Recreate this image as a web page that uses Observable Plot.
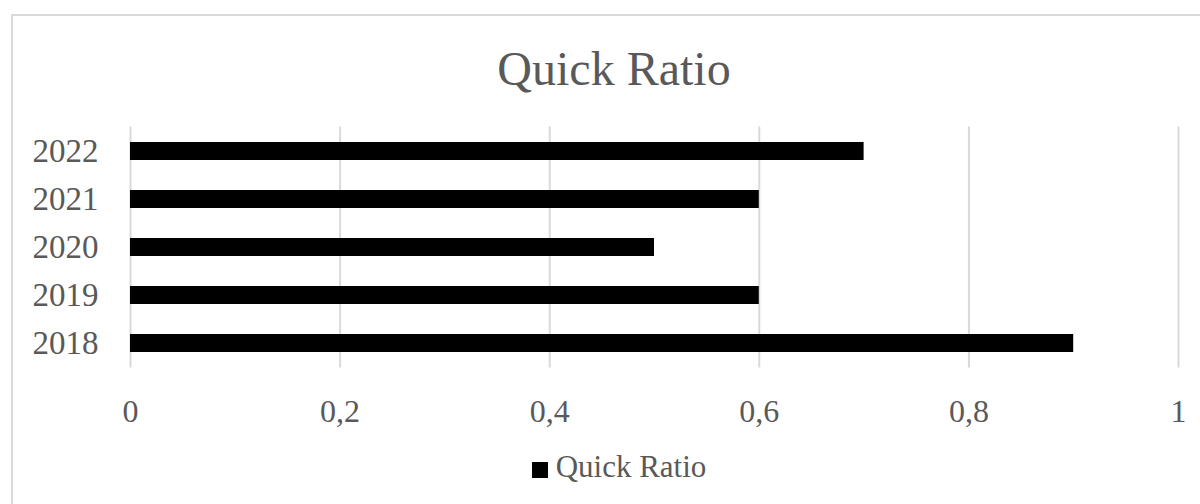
<!DOCTYPE html>
<html>
<head>
<meta charset="utf-8">
<script src="https://cdn.jsdelivr.net/npm/d3@7"></script>
<script src="https://cdn.jsdelivr.net/npm/@observablehq/plot@0.6"></script>
<style>
  body { margin: 0; background: #fff; }
  #wrap { position: relative; width: 1200px; height: 504px; overflow: hidden; background: #fff; }
  #frame { position: absolute; left: 11px; top: 14px; width: 1300px; height: 600px; border: 2px solid #d9d9d9; box-sizing: border-box; pointer-events: none; }
  #title { position: relative; width: 1228px; height: 100px; box-sizing: border-box; padding-top: 45px; font-family: 'Liberation Serif', serif; font-size: 48px; line-height: 48px; text-align: center; color: #595959; }
  #chart { position: relative; height: 330px; }
  #legend { position: relative; width: 1200px; box-sizing: border-box; padding-left: 38px; padding-top: 21px; display: flex; justify-content: center; align-items: flex-start; font-family: 'Liberation Serif', serif; font-size: 31px; line-height: 31px; color: #595959; }
  #legend .sw { width: 16px; height: 16px; background: #000; margin-right: 8px; margin-top: 11px; }
</style>
</head>
<body>
<div id="wrap">
  <div id="frame"></div>
  <div id="title"></div>
  <div id="chart"></div>
  <div id="legend"></div>
</div>
<script>
const chartTitle = "Quick Ratio";
const seriesName = "Quick Ratio";
const years = ["2018", "2019", "2020", "2021", "2022"];
const quickRatio = [0.9, 0.6, 0.5, 0.6, 0.7];
const xTicks = [0, 0.2, 0.4, 0.6, 0.8, 1];
const xTickLabels = ["0", "0,2", "0,4", "0,6", "0,8", "1"];

const data = years.map((y, i) => ({year: y, value: quickRatio[i]}));

document.getElementById("title").textContent = chartTitle;

const chart = Plot.plot({
  width: 1200,
  height: 330,
  marginLeft: 130,
  marginRight: 22,
  marginTop: 26.5,
  marginBottom: 62.5,
  style: {fontFamily: "'Liberation Serif', serif", fontSize: "32px", color: "#595959", background: "transparent", overflow: "visible"},
  x: {domain: [0, 1], label: null},
  y: {domain: years.slice().reverse(), paddingInner: 0.625, paddingOuter: 0.3125, label: null},
  marks: [
    Plot.gridX(xTicks, {stroke: "#d9d9d9", strokeOpacity: 1, strokeWidth: 2}),
    Plot.barX(data, {x: "value", y: "year", fill: "#000"}),
    Plot.axisX(xTicks, {tickSize: 0, tickPadding: 31, tickFormat: d => xTickLabels[xTicks.indexOf(d)], fill: "#595959", fontSize: 32, label: null}),
    Plot.axisY({tickSize: 0, tickPadding: 32, fill: "#595959", fontSize: 33, label: null})
  ]
});
document.getElementById("chart").appendChild(chart);

const legend = document.getElementById("legend");
const sw = document.createElement("div");
sw.className = "sw";
const lab = document.createElement("span");
lab.textContent = seriesName;
legend.appendChild(sw);
legend.appendChild(lab);
</script>
</body>
</html>
